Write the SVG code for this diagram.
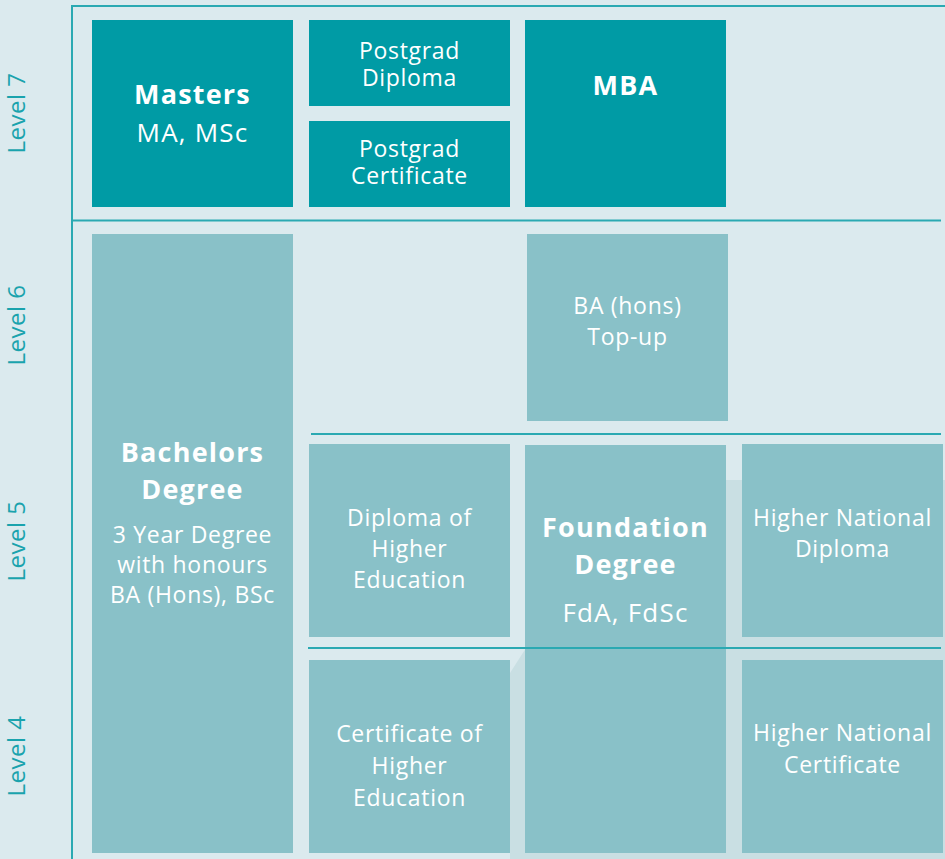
<svg xmlns="http://www.w3.org/2000/svg" width="945" height="859" viewBox="0 0 945 859">
<style>
.bg{fill:#dbeaee}
.shade{fill:#c9dfe3}
.dark{fill:#009ba5}
.light{fill:#89c1c8}
.rule{stroke:#2aa9b2;stroke-width:2;fill:none}
.lvl{font-family:"Open Sans","Liberation Sans",sans-serif;font-size:24px;font-weight:400;fill:#1aa3ad;text-anchor:middle;letter-spacing:0.5px}
.t{font-family:"Open Sans","Liberation Sans",sans-serif;font-size:23px;fill:#ffffff;text-anchor:middle;letter-spacing:0.7px}
.b{font-family:"Open Sans","Liberation Sans",sans-serif;font-size:27px;font-weight:700;fill:#ffffff;text-anchor:middle;letter-spacing:1.2px}
.m{font-size:26px;letter-spacing:1.2px}
</style>
<rect class="bg" x="0" y="0" width="945" height="859"/>
<polygon class="shade" points="510,673 526,648 726,648 726,480 945,480 945,859 510,859"/>

<g id="levels">
<text class="lvl" transform="translate(25,113) rotate(-90)">Level 7</text>
<text class="lvl" transform="translate(25,325) rotate(-90)">Level 6</text>
<text class="lvl" transform="translate(25,541) rotate(-90)">Level 5</text>
<text class="lvl" transform="translate(25,756) rotate(-90)">Level 4</text>
</g>

<g id="grid">
<line class="rule" x1="72" y1="6" x2="945" y2="6"/>
<line class="rule" x1="72" y1="5" x2="72" y2="859"/>
<line class="rule" x1="72" y1="220.5" x2="941" y2="220.5"/>
<line class="rule" x1="311" y1="434" x2="941" y2="434"/>
</g>

<g id="masters"><rect class="dark" x="92" y="20" width="201" height="187"/>
<text class="b" x="192.5" y="104">Masters</text><text class="t m" x="192.5" y="142">MA, MSc</text></g>
<g id="postgrad-diploma"><rect class="dark" x="309" y="20" width="201" height="86"/>
<text class="t" x="409.5" y="59">Postgrad</text><text class="t" x="409.5" y="86">Diploma</text></g>
<g id="postgrad-certificate"><rect class="dark" x="309" y="121" width="201" height="86"/>
<text class="t" x="409.5" y="157">Postgrad</text><text class="t" x="409.5" y="184">Certificate</text></g>
<g id="mba"><rect class="dark" x="525" y="20" width="201" height="187"/>
<text class="b" x="625.5" y="95">MBA</text></g>

<g id="bachelors"><rect class="light" x="92" y="234" width="201" height="619"/>
<text class="b" x="192.5" y="462">Bachelors</text><text class="b" x="192.5" y="499">Degree</text>
<text class="t" x="192.5" y="543">3 Year Degree</text><text class="t" x="192.5" y="573">with honours</text><text class="t" x="192.5" y="603">BA (Hons), BSc</text></g>
<g id="ba-topup"><rect class="light" x="527" y="234" width="201" height="187"/>
<text class="t" x="627.5" y="314">BA (hons)</text><text class="t" x="627.5" y="345">Top-up</text></g>
<g id="diploma-he"><rect class="light" x="309" y="444" width="201" height="193"/>
<text class="t" x="409.5" y="526">Diploma of</text><text class="t" x="409.5" y="557">Higher</text><text class="t" x="409.5" y="588">Education</text></g>
<g id="foundation"><rect class="light" x="525" y="445" width="201" height="408"/>
<text class="b" x="625.5" y="537">Foundation</text><text class="b" x="625.5" y="574">Degree</text>
<text class="t m" x="625.5" y="622">FdA, FdSc</text></g>
<g id="hnd"><rect class="light" x="742" y="444" width="201" height="193"/>
<text class="t" x="842.5" y="526">Higher National</text><text class="t" x="842.5" y="557">Diploma</text></g>
<g id="cert-he"><rect class="light" x="309" y="660" width="201" height="193"/>
<text class="t" x="409.5" y="742">Certificate of</text><text class="t" x="409.5" y="774">Higher</text><text class="t" x="409.5" y="806">Education</text></g>
<g id="hnc"><rect class="light" x="742" y="660" width="201" height="193"/>
<text class="t" x="842.5" y="741">Higher National</text><text class="t" x="842.5" y="773">Certificate</text></g>

<g id="connectors">
<line class="rule" x1="308" y1="648" x2="941" y2="648"/>
</g>
</svg>
